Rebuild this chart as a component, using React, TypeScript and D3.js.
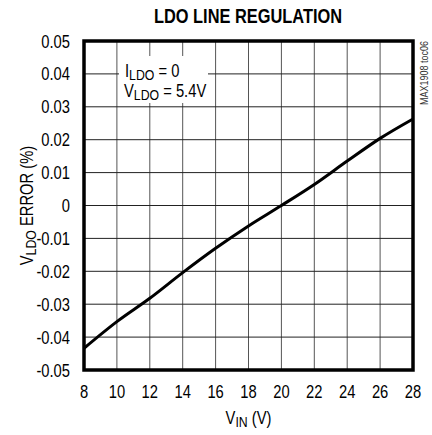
import React, { useEffect, useRef } from 'react'
import * as d3 from 'd3'

// input voltage (V) and LDO error (%)
const vin = [8, 10, 12, 14, 16, 18, 20, 22, 24, 26, 28]
const errorPct = [-0.0434, -0.0353, -0.0282, -0.0204, -0.013, -0.0062, 0.0, 0.0064, 0.0135, 0.0204, 0.0263]

const xTicks = [8, 10, 12, 14, 16, 18, 20, 22, 24, 26, 28]
const yTicks = [0.05, 0.04, 0.03, 0.02, 0.01, 0, -0.01, -0.02, -0.03, -0.04, -0.05]
const yTickLabels = ['0.05', '0.04', '0.03', '0.02', '0.01', '0', '-0.01', '-0.02', '-0.03', '-0.04', '-0.05']

const FONT = '"Liberation Sans", Arial, sans-serif'
// no narrow font installed, so squeeze the glyphs horizontally
const SQ = 0.82

function App() {
  const ref = useRef<SVGSVGElement>(null)

  useEffect(() => {
    const width = 432, height = 435
    const margin = { top: 41, right: 19, bottom: 65, left: 84 }
    const w = width - margin.left - margin.right
    const h = height - margin.top - margin.bottom

    const svg = d3.select(ref.current)
    svg.selectAll('*').remove()

    const g = svg.append('g').attr('transform', `translate(${margin.left},${margin.top})`)

    const x = d3.scaleLinear().domain([8, 28]).range([0, w])
    const y = d3.scaleLinear().domain([-0.05, 0.05]).range([h, 0])

    // grid
    g.append('g')
      .selectAll('line')
      .data(xTicks)
      .join('line')
      .attr('x1', d => x(d))
      .attr('x2', d => x(d))
      .attr('y1', 0)
      .attr('y2', h)
      .attr('stroke', '#555')
      .attr('stroke-width', 1)

    g.append('g')
      .selectAll('line')
      .data(yTicks)
      .join('line')
      .attr('x1', 0)
      .attr('x2', w)
      .attr('y1', d => y(d))
      .attr('y2', d => y(d))
      .attr('stroke', '#222')
      .attr('stroke-width', 1)

    // annotation box (covers grid)
    g.append('rect')
      .attr('x', 35)
      .attr('y', 15)
      .attr('width', 89)
      .attr('height', 47)
      .attr('fill', '#fff')

    const note = g.append('g').style('font-family', FONT).style('font-size', '18px').attr('fill', '#000')
    const t1 = note.append('text').attr('transform', `translate(41,36) scale(${SQ},1)`)
    t1.append('tspan').text('I')
    t1.append('tspan').attr('dy', 3).style('font-size', '15px').text('LDO')
    t1.append('tspan').attr('dy', -3).text(' = 0')
    const t2 = note.append('text').attr('transform', `translate(40,56) scale(${SQ},1)`)
    t2.append('tspan').text('V')
    t2.append('tspan').attr('dy', 3).style('font-size', '15px').text('LDO')
    t2.append('tspan').attr('dy', -3).text(' = 5.4V')

    // curve
    const pts = vin.map((v, i) => [v, errorPct[i]] as [number, number])
    g.append('path')
      .datum(pts)
      .attr('fill', 'none')
      .attr('stroke', '#000')
      .attr('stroke-width', 3)
      .attr('stroke-linejoin', 'round')
      .attr('d', d3.line<[number, number]>()
        .x(d => x(d[0]))
        .y(d => y(d[1]))
        .curve(d3.curveMonotoneX))

    // frame
    g.append('rect')
      .attr('x', 0)
      .attr('y', 0)
      .attr('width', w)
      .attr('height', h)
      .attr('fill', 'none')
      .attr('stroke', '#000')
      .attr('stroke-width', 3.5)

    // tick labels
    g.append('g')
      .selectAll('text')
      .data(xTicks)
      .join('text')
      .attr('transform', d => `translate(${x(d)},${h + 28}) scale(${SQ},1)`)
      .attr('text-anchor', 'middle')
      .style('font-family', FONT)
      .style('font-size', '18px')
      .text(d => String(d))

    g.append('g')
      .selectAll('text')
      .data(yTicks)
      .join('text')
      .attr('transform', d => `translate(-14,${y(d) + 6.5}) scale(${SQ},1)`)
      .attr('text-anchor', 'end')
      .style('font-family', FONT)
      .style('font-size', '18px')
      .text((d, i) => yTickLabels[i])

    // axis titles
    const xl = svg.append('text')
      .attr('transform', `translate(${margin.left + w / 2},424) scale(${SQ},1)`)
      .attr('text-anchor', 'middle')
      .style('font-family', FONT)
      .style('font-size', '18px')
    xl.append('tspan').text('V')
    xl.append('tspan').attr('dy', 3).style('font-size', '15px').text('IN')
    xl.append('tspan').attr('dy', -3).text(' (V)')

    const yl = svg.append('text')
      .attr('transform', `translate(33,${margin.top + h / 2}) rotate(-90) scale(${SQ},1)`)
      .attr('text-anchor', 'middle')
      .style('font-family', FONT)
      .style('font-size', '18px')
    yl.append('tspan').text('V')
    yl.append('tspan').attr('dy', 3).style('font-size', '15px').text('LDO')
    yl.append('tspan').attr('dy', -3).text(' ERROR (%)')

    // title
    svg.append('text')
      .attr('transform', `translate(248,23) scale(${SQ},1)`)
      .attr('text-anchor', 'middle')
      .style('font-family', FONT)
      .style('font-size', '20px')
      .style('font-weight', 'bold')
      .text('LDO LINE REGULATION')

    // figure id
    svg.append('text')
      .attr('transform', `translate(428,105) rotate(-90) scale(${SQ},1)`)
      .attr('text-anchor', 'start')
      .style('font-family', FONT)
      .style('font-size', '11px')
      .attr('fill', '#333')
      .text('MAX1908 toc06')
  }, [])

  return (
    <svg ref={ref} width={432} height={435} style={{ position: 'absolute', left: 0, top: 0, background: '#fff' }} />
  )
}

export default App
